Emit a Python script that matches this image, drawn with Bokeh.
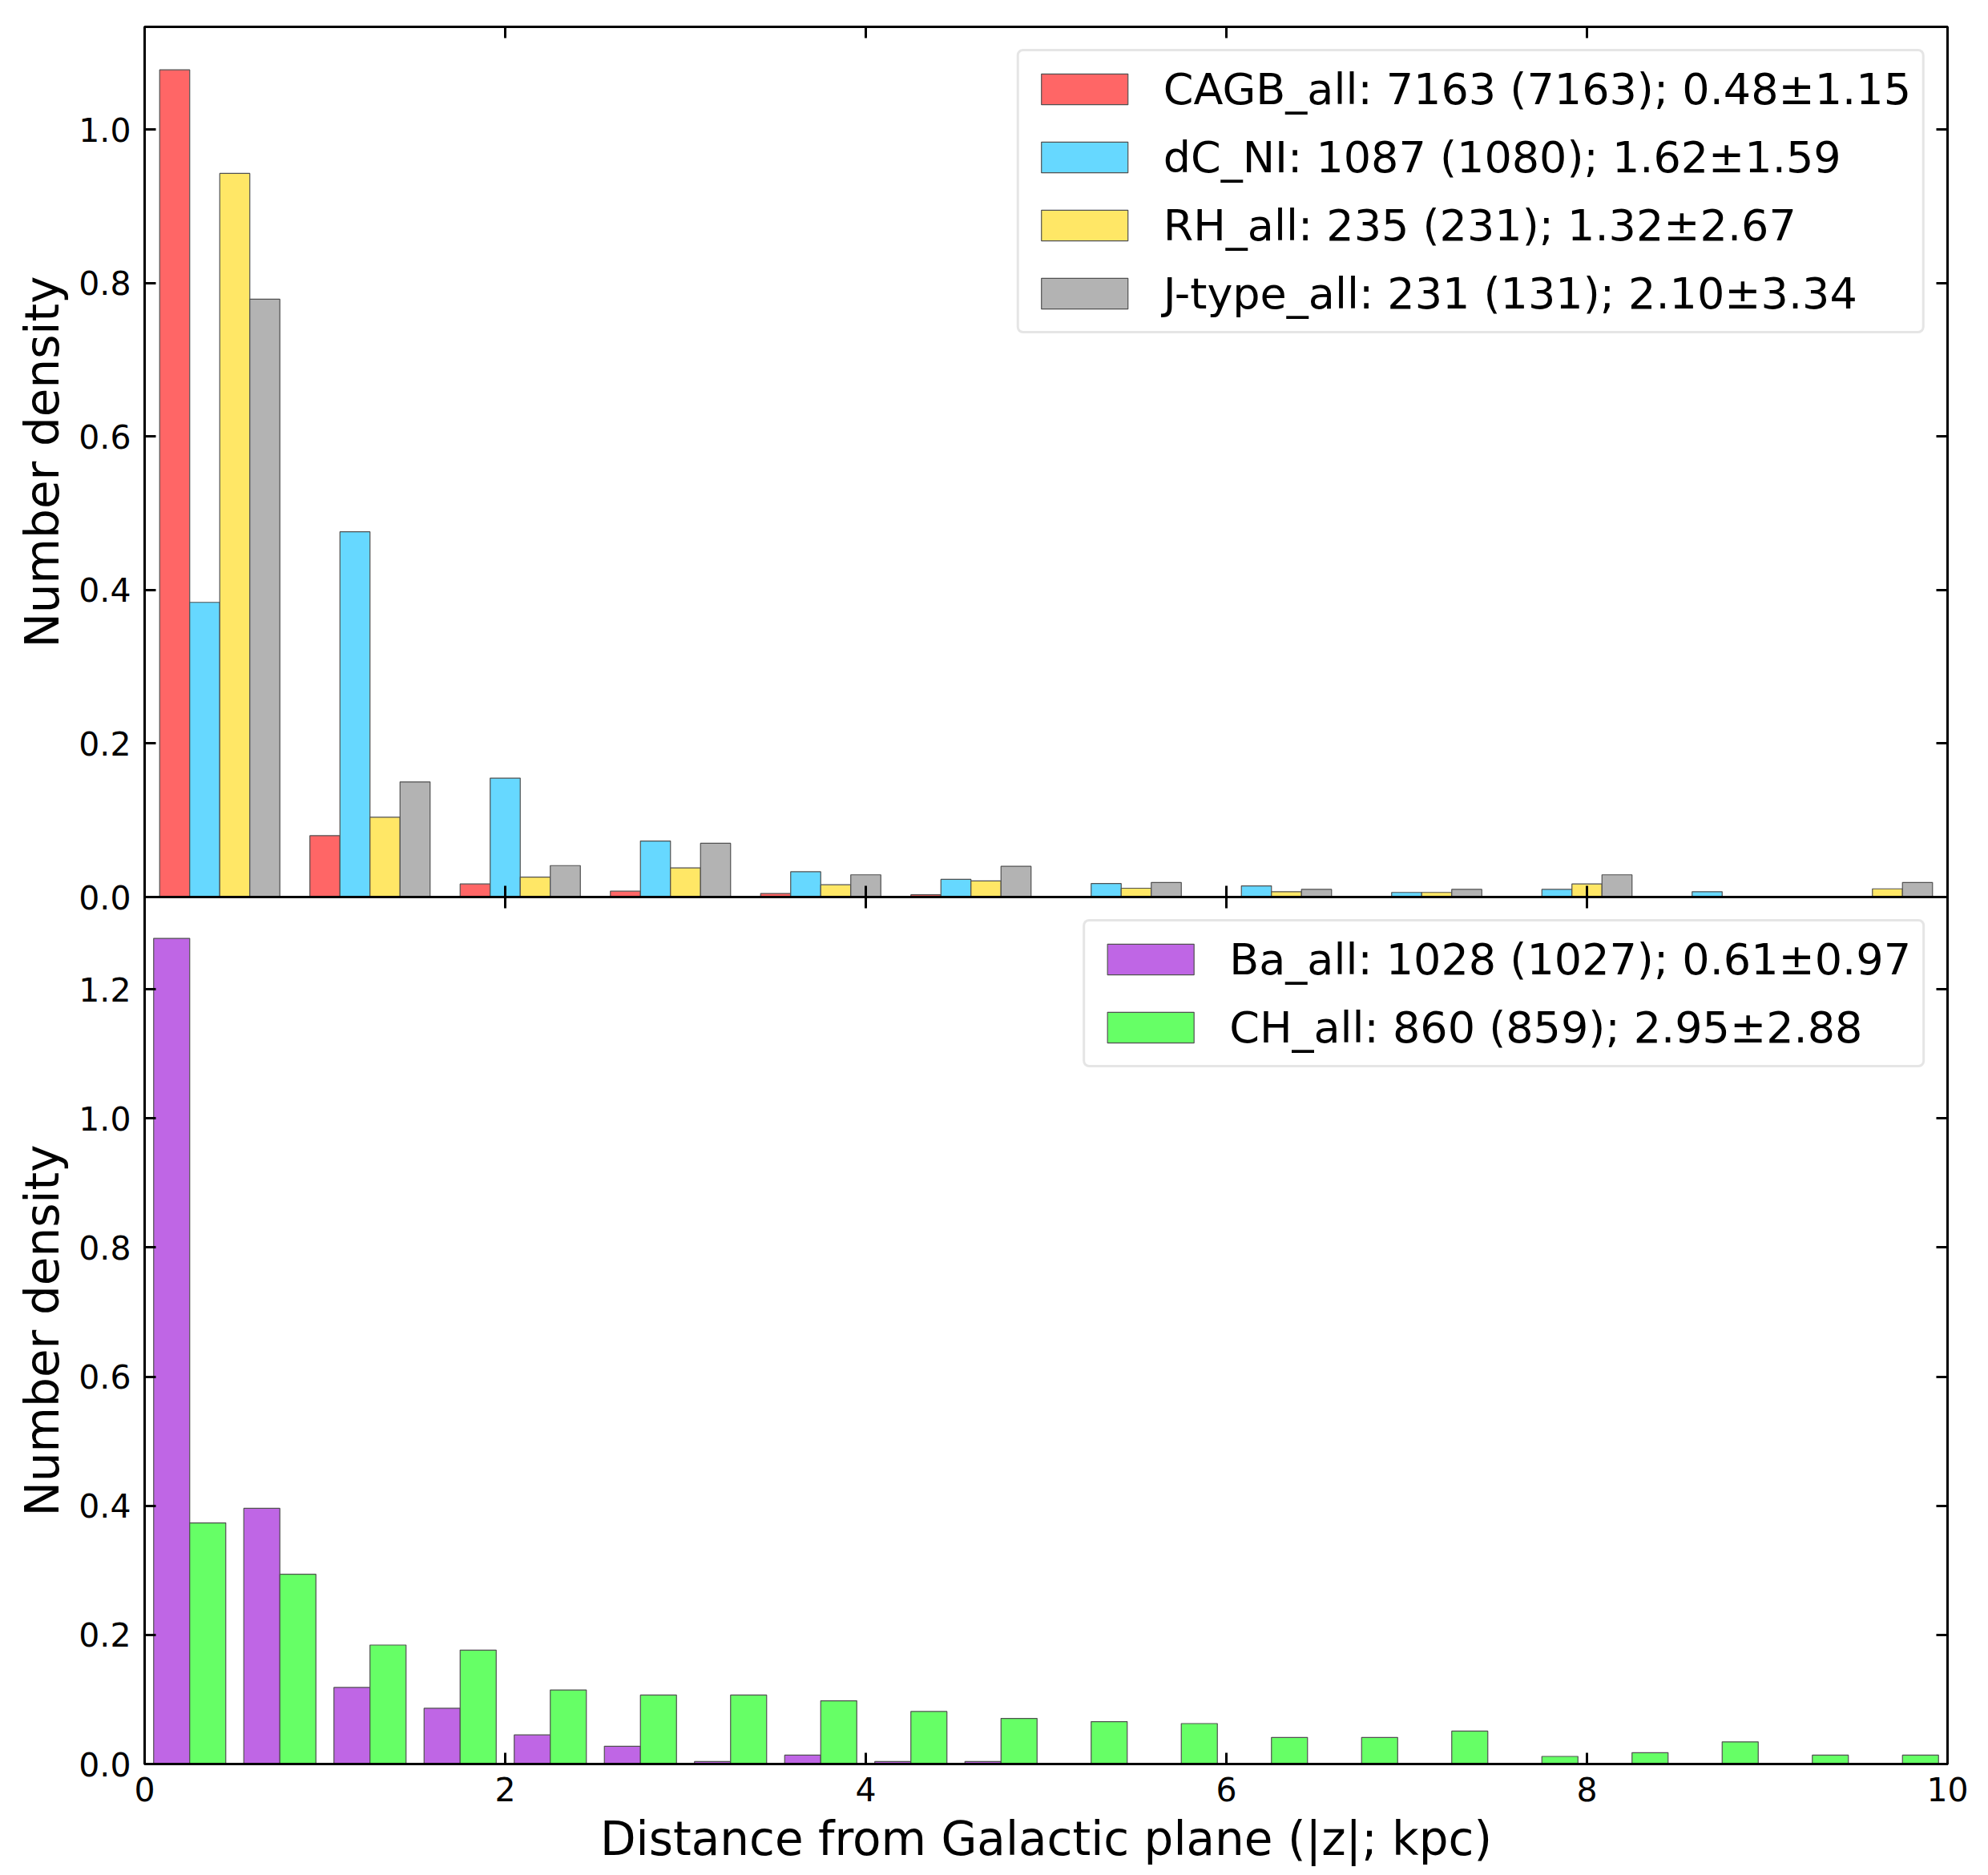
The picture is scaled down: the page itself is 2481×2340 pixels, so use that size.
from bokeh.plotting import figure
from bokeh.models import (Range1d, FixedTicker, PrintfTickFormatter, Legend,
                          LegendItem, LinearAxis, ColumnDataSource)
from bokeh.layouts import column
from bokeh.embed import file_html
from bokeh.resources import INLINE

# ---------------- data ----------------
top_edges = [0.0, 0.83333, 1.66667, 2.5, 3.33333, 4.16667, 5.0,
             5.83333, 6.66667, 7.5, 8.33333, 9.16667, 10.0]
cagb_all = [1.078, 0.080, 0.017, 0.0077, 0.0046, 0.003, 0.001, 0.0008, 0.0, 0.001, 0.0008, 0.0]
dc_ni = [0.384, 0.476, 0.155, 0.073, 0.033, 0.023, 0.0176, 0.0145, 0.006, 0.010, 0.007, 0.0]
rh_all = [0.943, 0.104, 0.026, 0.038, 0.016, 0.021, 0.0115, 0.007, 0.006, 0.017, 0.0, 0.0107]
jtype_all = [0.779, 0.150, 0.041, 0.070, 0.029, 0.040, 0.019, 0.010, 0.010, 0.029, 0.0, 0.019]
top_labels = ["CAGB_all: 7163 (7163); 0.48\u00b11.15",
              "dC_NI: 1087 (1080); 1.62\u00b11.59",
              "RH_all: 235 (231); 1.32\u00b12.67",
              "J-type_all: 231 (131); 2.10\u00b13.34"]
top_colors = ["#FF6666", "#66D8FF", "#FFE766", "#B3B3B3"]

bot_edges = [0.0, 0.5, 1.0, 1.5, 2.0, 2.5, 3.0, 3.5, 4.0, 4.5, 5.0,
             5.5, 6.0, 6.5, 7.0, 7.5, 8.0, 8.5, 9.0, 9.5, 10.0]
ba_all = [1.279, 0.396, 0.1186, 0.0863, 0.0451, 0.0275, 0.004, 0.0137, 0.004, 0.004,
          0.0, 0.0, 0.0, 0.0, 0.0, 0.0, 0.0, 0.0, 0.0, 0.0]
ch_all = [0.3735, 0.294, 0.1843, 0.1765, 0.1147, 0.1069, 0.1069, 0.098, 0.0814, 0.0706,
          0.0657, 0.0627, 0.0412, 0.0412, 0.051, 0.0118, 0.0176, 0.0343, 0.0137, 0.0137]
bot_labels = ["Ba_all: 1028 (1027); 0.61\u00b10.97",
              "CH_all: 860 (859); 2.95\u00b12.88"]
bot_colors = ["#BF66E5", "#66FF66"]

x_ticks = [0, 2, 4, 6, 8, 10]
top_yticks = [0.0, 0.2, 0.4, 0.6, 0.8, 1.0]
bot_yticks = [0.0, 0.2, 0.4, 0.6, 0.8, 1.0, 1.2]
top_ymax = 1.134
bot_ymax = 1.343

FONT = "DejaVu Sans"
EDGE = "#505050"
OVERLAP = 24


def make_fig(frame_h, ymax, top_border, bottom_border, is_bottom):
    p = figure(frame_width=2250, frame_height=frame_h,
               x_range=Range1d(0, 10), y_range=Range1d(0, ymax),
               output_backend="svg", toolbar_location=None,
               min_border_left=180, min_border_right=31,
               min_border_top=top_border, min_border_bottom=bottom_border,
               background_fill_color="white",
               border_fill_color=None if is_bottom else "white",
               outline_line_color="black", outline_line_width=3)
    p.grid.visible = False
    right = LinearAxis(fixed_location=10)
    above = LinearAxis(fixed_location=ymax)
    p.add_layout(right, "right")
    p.add_layout(above, "above")
    for ax in p.xaxis:
        ax.ticker = FixedTicker(ticks=x_ticks)
    yt = bot_yticks if is_bottom else top_yticks
    for ax in p.yaxis:
        ax.ticker = FixedTicker(ticks=yt)
        ax.formatter = PrintfTickFormatter(format="%.1f")
    for ax in p.axis:
        ax.major_tick_in = 14
        ax.major_tick_out = 0
        ax.minor_tick_line_color = None
        ax.major_tick_line_width = 3
        ax.axis_line_width = 3
        ax.major_tick_line_color = "black"
        ax.axis_line_color = "black"
        ax.major_label_text_font = FONT
        ax.major_label_text_font_size = "41px"
        ax.major_label_text_color = "black"
        ax.axis_label_text_font = FONT
        ax.axis_label_text_font_style = "normal"
        ax.axis_label_text_font_size = "58px"
        ax.axis_label_text_color = "black"
    for ax in [right, above]:
        ax.major_label_text_color = None
    left = p.yaxis[0]
    left.axis_label = "Number density"
    left.major_label_standoff = 17
    left.axis_label_standoff = 8
    below = p.below[0]
    if is_bottom:
        below.axis_label = "Distance from Galactic plane (|z|; kpc)"
        below.major_label_standoff = 16
        below.axis_label_standoff = 10
    else:
        below.fixed_location = 0
        below.major_label_text_color = None
    return p


def draw_bars(p, edges, series, colors, labels):
    n = len(series)
    items = []
    for i, (vals, col, lab) in enumerate(zip(series, colors, labels)):
        lefts = edges[:-1]
        widths = [b - a for a, b in zip(edges[:-1], edges[1:])]
        subw = [0.8 * w / n for w in widths]
        xs = [a + 0.1 * w + (i + 0.5) * s for a, w, s in zip(lefts, widths, subw)]
        src = ColumnDataSource(dict(x=xs, top=vals, w=subw))
        r = p.vbar(x="x", top="top", width="w", bottom=0, source=src,
                   fill_color=col, line_color=EDGE, line_width=1.2)
        items.append(LegendItem(label=lab, renderers=[r]))
    leg = Legend(items=items, location="top_right",
                 label_text_font=FONT, label_text_font_size="54px",
                 label_text_color="black",
                 glyph_width=135, glyph_height=48, label_standoff=31,
                 label_height=66, spacing=19, padding=14, margin=28,
                 border_line_color="#CCCCCC", border_line_width=3,
                 border_radius=8,
                 background_fill_color="white", background_fill_alpha=0.8)
    p.add_layout(leg)


p1 = make_fig(1086, top_ymax, 33, OVERLAP, False)
draw_bars(p1, top_edges, [cagb_all, dc_ni, rh_all, jtype_all], top_colors, top_labels)

p2 = make_fig(1082, bot_ymax, 0, 0, True)
p2.margin = (-OVERLAP, 0, 0, 0)
draw_bars(p2, bot_edges, [ba_all, ch_all], bot_colors, bot_labels)

layout = column(p1, p2, spacing=0)
open("out.html", "w").write(file_html(layout, INLINE))
